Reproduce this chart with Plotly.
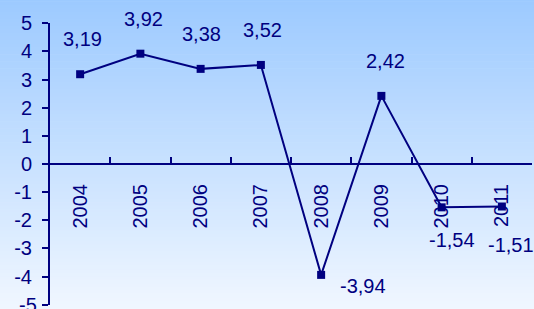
import plotly.graph_objects as go

years = ["2004", "2005", "2006", "2007", "2008", "2009", "2010", "2011"]
values = [3.19, 3.92, 3.38, 3.52, -3.94, 2.42, -1.54, -1.51]
y_tick_values = [-5, -4, -3, -2, -1, 0, 1, 2, 3, 4, 5]
y_tick_labels = ["-5", "-4", "-3", "-2", "-1", "0", "1", "2", "3", "4", "5"]
label_dx = [2, 3, 1, 2, 42, 4, 10, 9]
label_dy = [35, 35, 35, 35, -11, 35, -33, -38]

NAVY = "#000080"
FONT = "Liberation Sans, Arial, sans-serif"
FS = 20

fig = go.Figure()
fig.add_trace(go.Scatter(
    x=years, y=values, mode="lines+markers",
    line=dict(color=NAVY, width=2),
    marker=dict(symbol="square", size=8, color=NAVY),
    cliponaxis=False, showlegend=False, hoverinfo="skip",
))

annotations = []
for i, (v, dx, dy) in enumerate(zip(values, label_dx, label_dy)):
    annotations.append(dict(
        x=i, y=v, xref="x", yref="y", showarrow=False,
        text=f"{v:.2f}".replace(".", ","),
        xshift=dx, yshift=dy, xanchor="center", yanchor="middle",
        font=dict(family=FONT, size=FS, color=NAVY),
    ))

# bottom tick label (plotly drops it because it overflows the figure edge)
annotations.append(dict(
    x=0, y=y_tick_values[0], xref="paper", yref="y", showarrow=False,
    text=y_tick_labels[0], xanchor="right", yanchor="middle", xshift=-11,
    font=dict(family=FONT, size=FS, color=NAVY),
))

# vertical gradient background
shapes = []
n = 100
top = (155, 201, 255)
bot = (250, 252, 255)
for i in range(n):
    t = i / (n - 1)
    c = tuple(round(top[k] + (bot[k] - top[k]) * t) for k in range(3))
    shapes.append(dict(
        type="rect", xref="paper", yref="paper",
        x0=-0.2, x1=1.1, y0=1.1 - (i + 1) * 1.25 / n, y1=1.1 - i * 1.25 / n + 0.002,
        fillcolor=f"rgb{c}", line=dict(width=0), layer="below",
    ))

fig.update_layout(
    width=534, height=309,
    margin=dict(l=50, r=2, t=23, b=4, autoexpand=False),
    paper_bgcolor="#dcebff", plot_bgcolor="rgba(0,0,0,0)",
    font=dict(family=FONT, size=FS, color=NAVY),
    shapes=shapes, annotations=annotations,
    xaxis=dict(
        type="category", range=[-0.5, 7.5],
        anchor="free", position=0.5,
        showline=True, linecolor=NAVY, linewidth=2,
        ticks="inside", tickson="boundaries", ticklen=6, tickwidth=2, tickcolor=NAVY,
        tickangle=-90, ticklabelstandoff=11,
        tickfont=dict(family=FONT, size=FS, color=NAVY),
        showgrid=False, zeroline=False, layer="below traces", automargin=False,
    ),
    yaxis=dict(
        range=[-5.01, 5.01], tickmode="array", tickvals=y_tick_values, ticktext=y_tick_labels,
        showline=True, linecolor=NAVY, linewidth=2,
        ticks="outside", ticklen=6, tickwidth=2, tickcolor=NAVY,
        ticklabelstandoff=6,
        tickfont=dict(family=FONT, size=FS, color=NAVY),
        showgrid=False, zeroline=False, automargin=False,
    ),
)

fig.write_html(
    "out.html",
    config={"displayModeBar": False},
    post_script="document.body.style.margin='0';document.body.style.overflow='hidden';",
)
